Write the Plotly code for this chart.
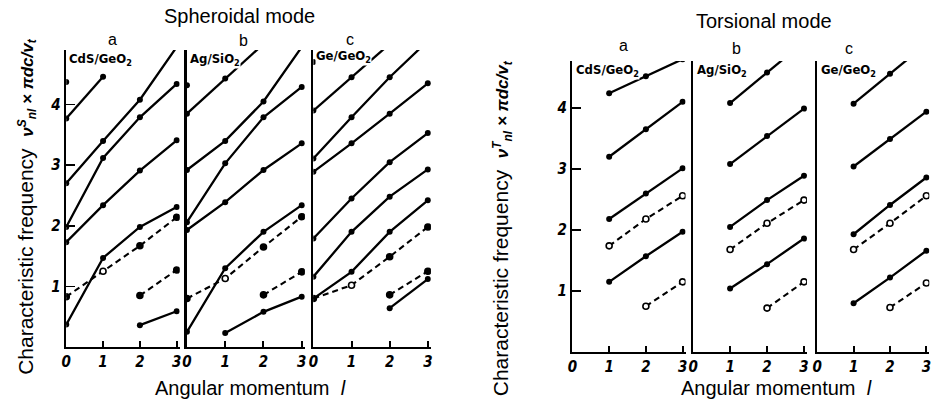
import plotly.graph_objects as go

W, H = 939, 404

# ---------------- data ----------------
L_TICKS = [0, 1, 2, 3]
Y_TICKS = [1, 2, 3, 4]

# Spheroidal mode, a: CdS/GeO2
SPH_A_SOLID = [
    ([0], [4.37]),
    ([0, 1], [3.77, 4.46]),
    ([0, 1, 2, 3], [2.70, 3.40, 4.08, 4.95]),
    ([0, 1, 2, 3], [1.98, 3.12, 3.79, 4.34]),
    ([0, 1, 2, 3], [1.73, 2.34, 2.91, 3.41]),
    ([0, 1, 2, 3], [0.37, 1.47, 1.98, 2.31]),
    ([2, 3], [0.36, 0.59]),
]
SPH_A_DASHED = [
    ([0, 1, 2, 3], [0.83, 1.25, 1.67, 2.14]),
    ([2, 3], [0.85, 1.27]),
]
# Spheroidal mode, b: Ag/SiO2
SPH_B_SOLID = [
    ([0], [4.32]),
    ([0, 1, 2], [3.85, 4.43, 5.0]),
    ([0, 1, 2, 3], [2.92, 3.40, 4.05, 4.95]),
    ([0, 1, 2, 3], [2.06, 3.03, 3.79, 4.29]),
    ([0, 1, 2, 3], [1.93, 2.39, 2.92, 3.36]),
    ([0, 1, 2, 3], [0.25, 1.30, 1.90, 2.34]),
    ([1, 2, 3], [0.23, 0.58, 0.83]),
]
SPH_B_DASHED = [
    ([0, 1, 2, 3], [0.80, 1.13, 1.65, 2.15]),
    ([2, 3], [0.86, 1.24]),
]
# Spheroidal mode, c: Ge/GeO2
SPH_C_SOLID = [
    ([0], [4.70]),
    ([0, 1, 2], [3.90, 4.45, 5.0]),
    ([0, 1, 2, 3], [3.11, 3.79, 4.45, 5.05]),
    ([0, 1, 2, 3], [2.89, 3.36, 3.85, 4.35]),
    ([0, 1, 2, 3], [1.79, 2.45, 3.05, 3.53]),
    ([0, 1, 2, 3], [1.16, 1.90, 2.48, 2.93]),
    ([0, 1, 2, 3], [0.80, 1.24, 1.90, 2.42]),
    ([2, 3], [0.64, 1.12]),
]
SPH_C_DASHED = [
    ([0, 1, 2, 3], [0.80, 1.02, 1.49, 1.98]),
    ([2, 3], [0.86, 1.25]),
]
# Torsional mode, a: CdS/GeO2
TOR_A_SOLID = [
    ([1, 2, 3], [4.24, 4.52, 4.80]),
    ([1, 2, 3], [3.20, 3.65, 4.10]),
    ([1, 2, 3], [2.18, 2.60, 3.01]),
    ([1, 2, 3], [1.15, 1.57, 1.97]),
]
TOR_A_DASHED = [
    ([1, 2, 3], [1.74, 2.18, 2.56]),
    ([2, 3], [0.75, 1.15]),
]
# Torsional mode, b: Ag/SiO2
TOR_B_SOLID = [
    ([1, 2, 3], [4.08, 4.58, 5.08]),
    ([1, 2, 3], [3.08, 3.54, 3.99]),
    ([1, 2, 3], [2.05, 2.49, 2.89]),
    ([1, 2, 3], [1.04, 1.44, 1.86]),
]
TOR_B_DASHED = [
    ([1, 2, 3], [1.68, 2.11, 2.49]),
    ([2, 3], [0.72, 1.15]),
]
# Torsional mode, c: Ge/GeO2
TOR_C_SOLID = [
    ([1, 2, 3], [4.07, 4.56, 5.05]),
    ([1, 2, 3], [3.04, 3.49, 3.94]),
    ([1, 2, 3], [1.93, 2.41, 2.86]),
    ([1, 2, 3], [0.80, 1.22, 1.66]),
]
TOR_C_DASHED = [
    ([1, 2, 3], [1.68, 2.11, 2.56]),
    ([2, 3], [0.73, 1.13]),
]

MATERIALS = ["CdS/GeO<sub>2</sub>", "Ag/SiO<sub>2</sub>", "Ge/GeO<sub>2</sub>"]
LETTERS = ["a", "b", "c"]

# ---------------- layout geometry (pixels) ----------------
SPH_Y = (50, 347, 4.9)     # top px, zero px, top value
TOR_Y = (61, 352, 4.77)
panels = [
    dict(solid=SPH_A_SOLID, dashed=SPH_A_DASHED, x0=61.7, x3=173, yg=SPH_Y, first=True, open_dash=False),
    dict(solid=SPH_B_SOLID, dashed=SPH_B_DASHED, x0=183.3, x3=299, yg=SPH_Y, first=False, open_dash=False),
    dict(solid=SPH_C_SOLID, dashed=SPH_C_DASHED, x0=310.7, x3=426, yg=SPH_Y, first=False, open_dash=False),
    dict(solid=TOR_A_SOLID, dashed=TOR_A_DASHED, x0=571.7, x3=682.7, yg=TOR_Y, first=True, open_dash=True),
    dict(solid=TOR_B_SOLID, dashed=TOR_B_DASHED, x0=693.3, x3=805, yg=TOR_Y, first=False, open_dash=True),
    dict(solid=TOR_C_SOLID, dashed=TOR_C_DASHED, x0=818.3, x3=928.3, yg=TOR_Y, first=False, open_dash=True),
]
XMAX = 3.08

TICKFONT = dict(family="Liberation Sans Narrow, DejaVu Sans Condensed, Liberation Sans",
                size=15, color="black", weight="bold", style="italic")
TEXTFONT = dict(family="Liberation Sans, Arial, sans-serif", size=20, color="black")
LABELFONT = dict(family="Liberation Sans Narrow, DejaVu Sans Condensed, Liberation Sans",
                 size=13, color="black", weight="bold")

fig = go.Figure()
layout = dict(width=W, height=H, margin=dict(l=0, r=0, t=0, b=0, pad=0),
              paper_bgcolor="white", plot_bgcolor="white", showlegend=False)

for i, p in enumerate(panels):
    k = "" if i == 0 else str(i + 1)
    xa, ya = "x" + k, "y" + k
    unit = (p["x3"] - p["x0"]) / 3.0
    xend = p["x0"] + unit * XMAX
    top_px, zero_px, top_val = p["yg"]
    layout["xaxis" + k] = dict(
        domain=[p["x0"] / W, xend / W], range=[0, XMAX], anchor=ya,
        showline=True, linecolor="black", linewidth=2, showgrid=False, zeroline=False,
        tickvals=L_TICKS, ticktext=[str(v) for v in L_TICKS], ticks="inside",
        ticklen=6, tickwidth=2, tickcolor="black", tickfont=TICKFONT,
        ticklabelstandoff=0, fixedrange=True)
    layout["yaxis" + k] = dict(
        domain=[1 - zero_px / H, 1 - top_px / H], range=[0, top_val], anchor=xa,
        showline=True, linecolor="black", linewidth=2.6, showgrid=False, zeroline=False,
        tickvals=Y_TICKS if p["first"] else [], ticktext=[str(v) for v in Y_TICKS] if p["first"] else [],
        ticks="inside" if p["first"] else "", ticklen=9, tickwidth=1.5, tickcolor="black",
        showticklabels=p["first"], tickfont=TICKFONT, fixedrange=True)
    for xs, ys in p["solid"]:
        fig.add_trace(go.Scatter(x=xs, y=ys, xaxis=xa, yaxis=ya, mode="lines+markers",
                                 line=dict(color="black", width=2.3),
                                 marker=dict(size=6, color="black"), hoverinfo="skip"))
    for xs, ys in p["dashed"]:
        if p["open_dash"]:
            fills = ["white"] * len(xs)
        else:
            fills = ["white" if xv == 1 else "black" for xv in xs]
        fig.add_trace(go.Scatter(x=xs, y=ys, xaxis=xa, yaxis=ya, mode="lines+markers",
                                 line=dict(color="black", width=2.1, dash="6px,4px"),
                                 marker=dict(size=6, color=fills,
                                             line=dict(color="black", width=1.6)),
                                 hoverinfo="skip"))

fig.update_layout(**layout)

ann = []
# group titles
ann.append(dict(text="Spheroidal mode", x=236 / W, y=1 - 16 / H, font=TEXTFONT))
ann.append(dict(text="Torsional mode", x=765 / W, y=1 - 21 / H, font=TEXTFONT))
# panel letters
for (px, py), t in zip([(108, 40), (240, 41), (348, 40), (623, 46), (737, 48), (850, 48)], LETTERS * 2):
    ann.append(dict(text=t, x=px / W, y=1 - py / H, font=dict(TEXTFONT, size=16)))
# material labels (white box masks the lines behind, as in the original)
for (px, py), t in zip([(63, 59), (185, 59), (312, 56), (574, 71), (696, 71), (821, 71)], MATERIALS * 2):
    ann.append(dict(text=t, x=px / W, y=1 - py / H, xanchor="left", font=LABELFONT,
                    bgcolor="white", borderpad=0))
# axis titles
xtitle = "Angular momentum  <i>l</i>"
ann.append(dict(text=xtitle, x=247 / W, y=1 - 388 / H, font=TEXTFONT))
ann.append(dict(text=xtitle, x=777 / W, y=1 - 388 / H, font=TEXTFONT))
MATH = "<span style='font-size:17px'><b><i>ν</i></b><sup><b><i>{m}</i></b></sup><sub><b><i>nl</i></b></sub><b><i> × πdc/v</i></b><sub><b><i>t</i></b></sub></span>"
ytitle_s = "Characteristic frequency  " + MATH.format(m="S")
ytitle_t = "Characteristic frequency  " + MATH.format(m="T")
ann.append(dict(text=ytitle_s, x=22 / W, y=1 - 206 / H, textangle=-90, font=dict(TEXTFONT, size=21)))
ann.append(dict(text=ytitle_t, x=501 / W, y=1 - 228 / H, textangle=-90, font=dict(TEXTFONT, size=21)))

for a in ann:
    a.setdefault("xanchor", "center")
    a.setdefault("yanchor", "middle")
    a.update(xref="paper", yref="paper", showarrow=False)
fig.update_layout(annotations=ann)

fig.write_html("out.html", config={"displayModeBar": False, "staticPlot": True},
               post_script="document.body.style.margin='0px';")
